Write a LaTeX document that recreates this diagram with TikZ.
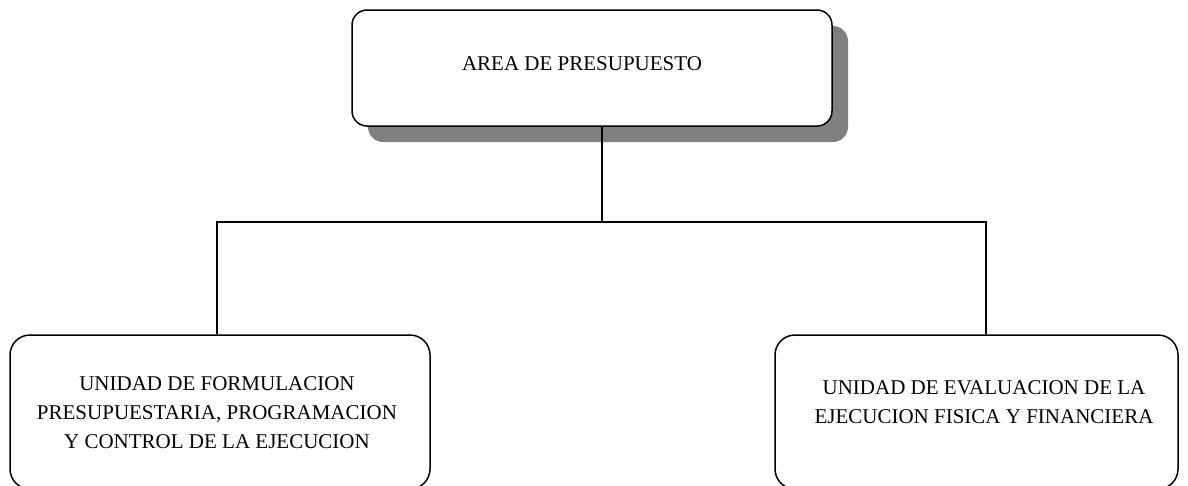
\documentclass[tikz,border=0pt]{standalone}
\usepackage{fontspec}
\setmainfont{Liberation Serif}
\usetikzlibrary{positioning, shadows}

\begin{document}
\begin{tikzpicture}[x=1pt, y=-1pt,
    line width=1.5pt,
    areabox/.style={draw, fill=white, rounded corners=15pt,
        minimum width=480pt, minimum height=116pt,
        general shadow={fill=black!50, shadow xshift=16pt, shadow yshift=-16pt}},
    unitbox/.style={draw, fill=white, rounded corners=20pt, minimum height=154pt},
    boxtext/.style={align=center, font=\fontsize{21}{29}\selectfont}]
    \useasboundingbox (0,0) rectangle (1188,485);

    % Top box with shadow
    \node[areabox] (area) at (592,68) {};
    \node[boxtext] (areatext) at (582,64) {AREA DE PRESUPUESTO};

    % Lower units
    \node[unitbox, minimum width=420pt] (fmt) at (220,412) {};
    \node[boxtext] (fmttext) at (217,413) {UNIDAD DE FORMULACION\\
        PRESUPUESTARIA, PROGRAMACION\\ Y CONTROL DE LA EJECUCION};
    \node[unitbox, minimum width=403pt] (eval) at (976.5,412) {};
    \node[boxtext] (evaltext) at (984,402) {UNIDAD DE EVALUACION DE LA\\
        EJECUCION FISICA Y FINANCIERA};

    % Connectors
    \coordinate (split) at (602,222);
    \draw (area.south -| split) -- (split);
    \draw (fmt.north -| 217,0) |- (split) -| (eval.north -| 986,0);
\end{tikzpicture}
\end{document}
